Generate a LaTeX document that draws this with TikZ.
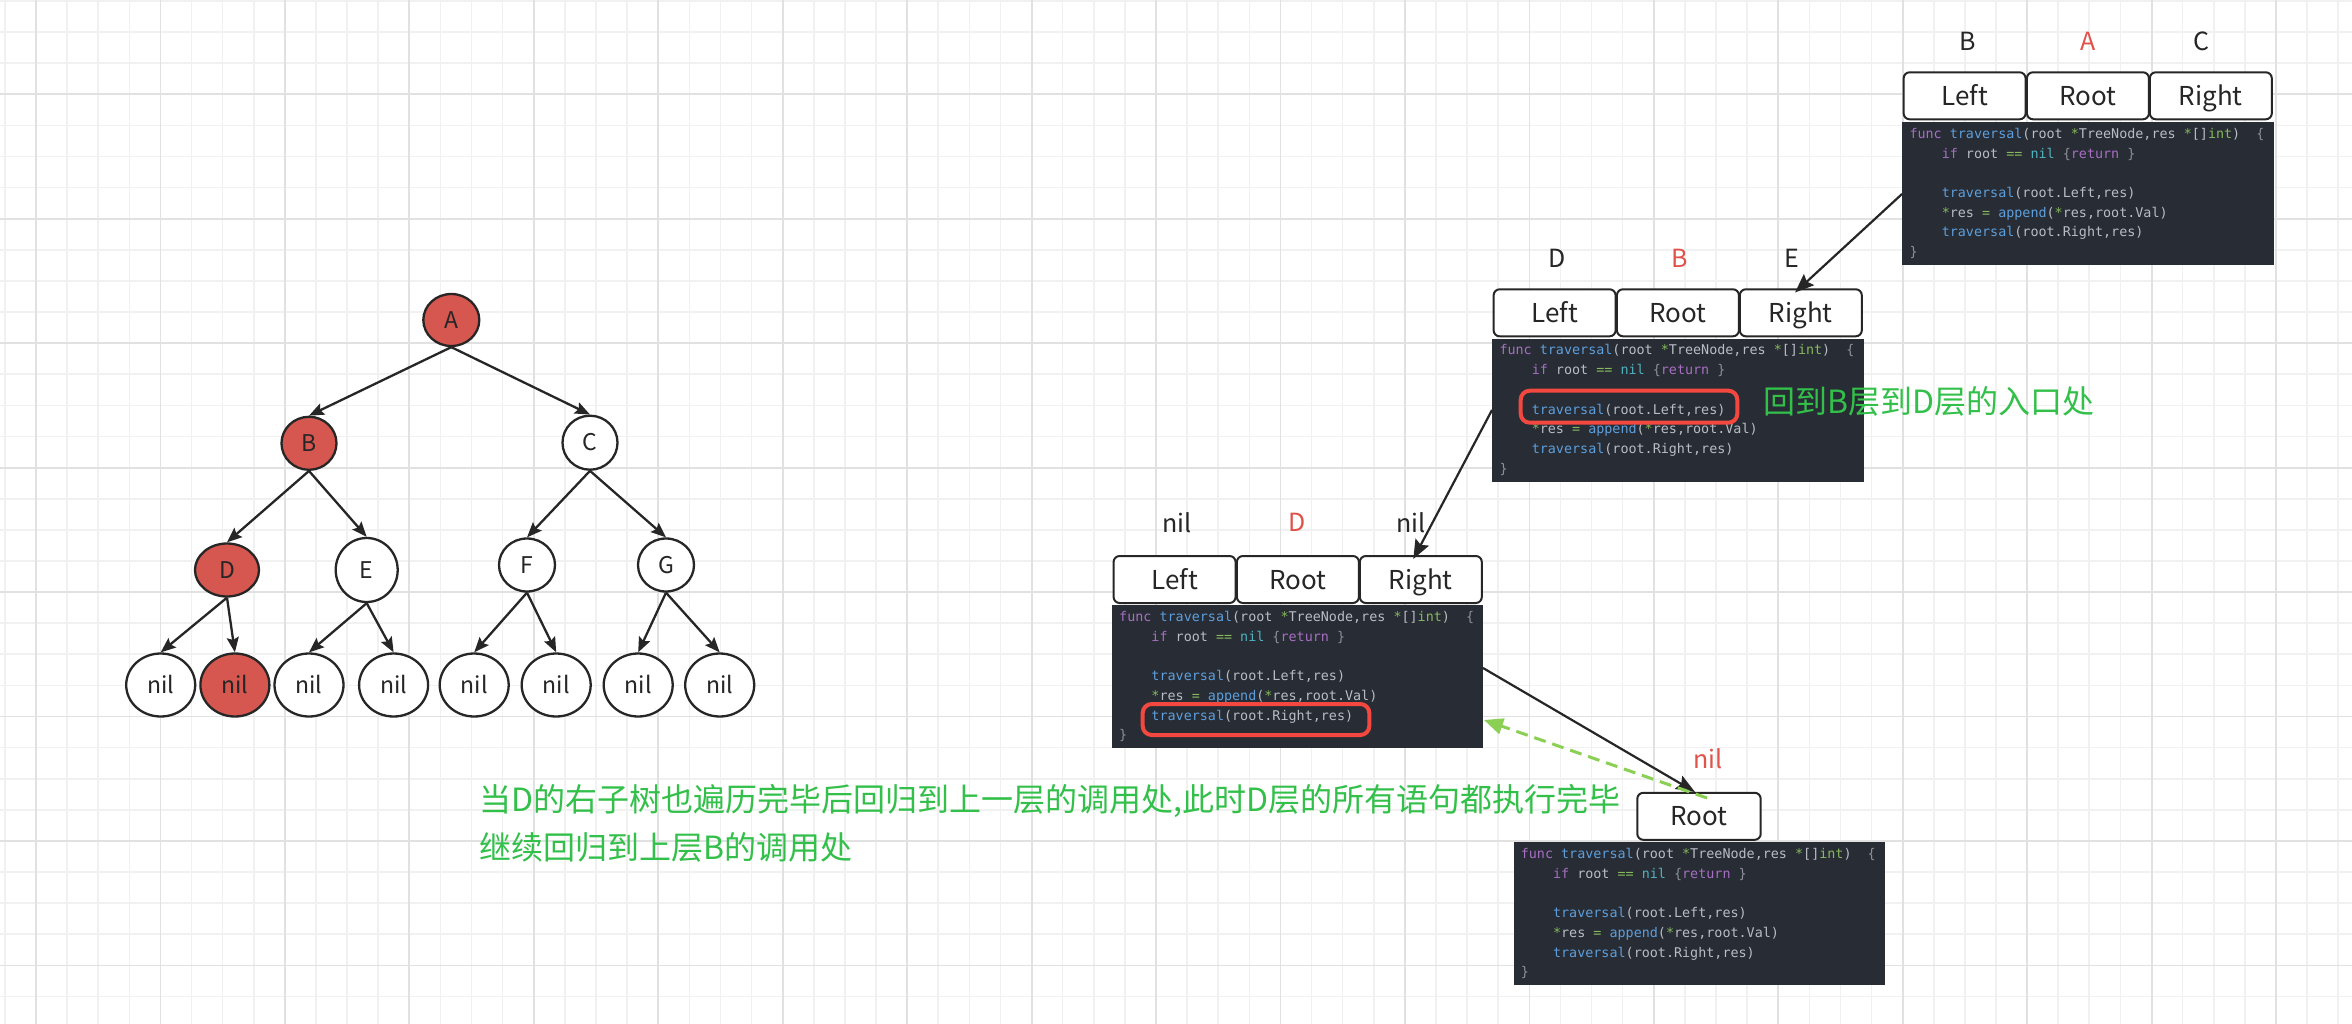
\documentclass[tikz,border=0pt]{standalone}
\usepackage{fontspec}
\setmainfont{Noto Sans CJK SC}
\newfontfamily\codefont{DejaVu Sans Mono}
\usetikzlibrary{shapes.geometric,arrows.meta,calc}
\definecolor{gridminor}{HTML}{F1F1F1}
\definecolor{gridmajor}{HTML}{E1E1E1}
\definecolor{ink}{HTML}{262626}
\definecolor{nodered}{HTML}{D6574F}
\definecolor{labred}{HTML}{E0524A}
\definecolor{codebg}{HTML}{282C34}
\definecolor{ctext}{HTML}{B8BCC4}
\definecolor{ckw}{HTML}{A66FC2}
\definecolor{cfn}{HTML}{5D9FDC}
\definecolor{cop}{HTML}{86B85C}
\definecolor{cnil}{HTML}{4FB3BF}
\definecolor{cdim}{HTML}{8B9099}
\definecolor{hlred}{HTML}{F2483F}
\definecolor{txtgreen}{HTML}{33C04A}
\definecolor{dashgreen}{HTML}{8CCF55}
\newcommand{\Kw}[1]{\textcolor{ckw}{#1}}
\newcommand{\Fn}[1]{\textcolor{cfn}{#1}}
\newcommand{\Op}[1]{\textcolor{cop}{#1}}
\newcommand{\Nil}[1]{\textcolor{cnil}{#1}}
\newcommand{\Dim}[1]{\textcolor{cdim}{#1}}
\newcommand{\Sp}{\phantom{x}}
\newcommand{\gocode}{%
\mbox{\Kw{func}\Sp\Fn{traversal}(root\Sp\Op{*}TreeNode,res\Sp\Op{*}[]\Op{int})\Sp\Sp\Dim{\{}}\\
\mbox{\Sp\Sp\Sp\Sp\Kw{if}\Sp root\Sp\Op{==}\Sp\Nil{nil}\Sp\Dim{\{}\Kw{return}\Sp\Dim{\}}}\\
\mbox{}\\
\mbox{\Sp\Sp\Sp\Sp\Fn{traversal}(root.Left,res)}\\
\mbox{\Sp\Sp\Sp\Sp\Op{*}res\Sp\Op{=}\Sp\Fn{append}(\Op{*}res,root.Val)}\\
\mbox{\Sp\Sp\Sp\Sp\Fn{traversal}(root.Right,res)}\\
\mbox{\Dim{\}}}}
\tikzset{
  minorgrid/.style={draw=gridminor,line width=1.6pt},
  majorgrid/.style={draw=gridmajor,line width=1.8pt},
  tnode/.style={ellipse,draw=ink,line width=2.3pt,fill=white,inner sep=0pt,
    text=ink,font=\fontsize{23}{26}\selectfont,text height=16.5pt,text depth=0pt},
  rednode/.style={tnode,fill=nodered},
  tedge/.style={draw=ink,line width=2.3pt,-{Stealth[length=15pt,width=12pt,inset=2.5pt]}},
  cell/.style={draw=ink,line width=2pt,rounded corners=6pt,fill=white,
    minimum width=122pt,minimum height=47pt,inner sep=0pt,text=ink,
    font=\fontsize{26}{30}\selectfont,text height=19pt,text depth=0pt},
  toplab/.style={text=ink,inner sep=0pt,font=\fontsize{25}{28}\selectfont},
  redlab/.style={toplab,text=labred},
  code/.style={anchor=north west,fill=codebg,text=ctext,inner xsep=7.3pt,inner ysep=0pt,
    text width=356.7pt,minimum width=371.3pt,minimum height=143pt,align=left,
    font=\codefont\fontsize{13.4}{19.7}\selectfont},
  hl/.style={draw=hlred,line width=4pt,rounded corners=9pt},
  callarrow/.style={draw=ink,line width=2.2pt,-{Stealth[length=19pt,width=15pt,inset=3pt]}},
  backarrow/.style={draw=dashgreen,line width=3pt,dash pattern=on 12pt off 7pt,
    -{Triangle[length=19pt,width=16pt]}},
  greentext/.style={text=txtgreen,inner sep=0pt,anchor=west,font=\fontsize{32}{36}\selectfont},
}
\begin{document}
\begin{tikzpicture}[x=1pt,y=-1pt]
\useasboundingbox (0,0) rectangle (2352,1024);
\fill[white] (0,0) rectangle (2352,1024);
% grid
\foreach \k in {0,...,75} \draw[minorgrid] ({4.9+31.11*\k},0) -- ({4.9+31.11*\k},1024);
\foreach \k in {0,...,32} \draw[minorgrid] (0,{0.97+31.11*\k}) -- (2352,{0.97+31.11*\k});
\foreach \k in {0,...,18} \draw[majorgrid] ({36+124.45*\k},0) -- ({36+124.45*\k},1024);
\foreach \k in {0,...,7} \draw[majorgrid] (0,{94.3+124.45*\k}) -- (2352,{94.3+124.45*\k});

% ---------------- tree ----------------
\node[rednode,minimum width=56pt,minimum height=52pt] (A) at (451.3,320) {A};
\node[rednode,minimum width=55pt,minimum height=53pt] (B) at (309,443.3) {B};
\node[tnode,minimum width=55pt,minimum height=54pt] (C) at (590,442.7) {C};
\node[rednode,minimum width=64pt,minimum height=53pt] (D) at (227,570) {D};
\node[tnode,minimum width=62pt,minimum height=64pt] (E) at (366.7,570) {E};
\node[tnode,minimum width=56pt,minimum height=53pt] (F) at (527,565) {F};
\node[tnode,minimum width=56pt,minimum height=53pt] (G) at (666,565) {G};
\node[tnode,minimum width=69pt,minimum height=63pt] (n1) at (160.7,685) {nil};
\node[rednode,minimum width=69pt,minimum height=63pt] (n2) at (234.9,685) {nil};
\node[tnode,minimum width=69pt,minimum height=63pt] (n3) at (309,685) {nil};
\node[tnode,minimum width=69pt,minimum height=63pt] (n4) at (393.6,685) {nil};
\node[tnode,minimum width=69pt,minimum height=63pt] (n5) at (474.2,685) {nil};
\node[tnode,minimum width=69pt,minimum height=63pt] (n6) at (556.2,685) {nil};
\node[tnode,minimum width=69pt,minimum height=63pt] (n7) at (638.2,685) {nil};
\node[tnode,minimum width=69pt,minimum height=63pt] (n8) at (719.7,685) {nil};
\draw[tedge] (A.south) -- (B.north);
\draw[tedge] (A.south) -- (C.north);
\draw[tedge] (B.south) -- (D.north);
\draw[tedge] (B.south) -- (E.north);
\draw[tedge] (C.south) -- (F.north);
\draw[tedge] (C.south) -- (G.north);
\draw[tedge] (D.south) -- (n1.north);
\draw[tedge] (D.south) -- (n2.north);
\draw[tedge] (E.south) -- (n3.north);
\draw[tedge] (E.south) -- (n4.north);
\draw[tedge] (F.south) -- (n5.north);
\draw[tedge] (F.south) -- (n6.north);
\draw[tedge] (G.south) -- (n7.north);
\draw[tedge] (G.south) -- (n8.north);

% ---------------- panel 1 (A) ----------------
\node[toplab] (q1l) at (1967.3,41.7) {B};
\node[redlab] (q1r) at (2087.7,41.7) {A};
\node[toplab] (q1c) at (2201.7,41.7) {C};
\node[cell] (p1left) at (1964.6,95.8) {Left};
\node[cell] (p1root) at (2087.9,95.8) {Root};
\node[cell] (p1right) at (2210.8,95.8) {Right};
\node[code] (c1) at (1902,121.7) {\gocode};

% ---------------- panel 2 (B) ----------------
\node[toplab] (q2l) at (1556.7,258.3) {D};
\node[redlab] (q2r) at (1679.3,258.3) {B};
\node[toplab] (q2c) at (1791.7,258.3) {E};
\node[cell] (p2left) at (1554.6,312.8) {Left};
\node[cell] (p2root) at (1677.9,312.8) {Root};
\node[cell] (p2right) at (1800.8,312.8) {Right};
\node[code] (c2) at (1492,338.3) {\gocode};
\draw[hl] (1520.7,390.7) rectangle (1737.3,422.7);
\node[greentext] (g2) at (1763.3,401.7) {回到B层到D层的入口处};

% ---------------- panel 3 (D) ----------------
\node[toplab] (q3l) at (1176.7,522.5) {nil};
\node[redlab] (q3r) at (1296.7,522.5) {D};
\node[toplab] (q3c) at (1410.7,522.5) {nil};
\node[cell] (p3left) at (1174.6,579.5) {Left};
\node[cell] (p3root) at (1297.9,579.5) {Root};
\node[cell] (p3right) at (1420.8,579.5) {Right};
\node[code] (c3) at (1111.7,605) {\gocode};
\draw[hl] (1142.7,704) rectangle (1369.3,735);

% ---------------- bottom panel (nil) ----------------
\node[redlab] (q4r) at (1708.3,758.3) {nil};
\node[cell,minimum width=123.4pt] (p4root) at (1699,816.3) {Root};
\node[code] (c4) at (1513.3,842) {\gocode};

% ---------------- connectors ----------------
\coordinate (p1out) at (1902,194);
\coordinate (p2in) at (1795,292.5);
\coordinate (p2out) at (1492,410);
\coordinate (p3in) at (1413.3,559);
\coordinate (p3out) at (1483,668);
\coordinate (p4in) at (1695,792);
\coordinate (p4back) at (1707,798);
\coordinate (p3back) at (1484,720);
\draw[callarrow] (p1out) -- (p2in);
\draw[callarrow] (p2out) -- (p3in);
\draw[callarrow] (p3out) -- (p4in);
\draw[backarrow] (p4back) -- (p3back);

% ---------------- bottom text ----------------
\node[greentext] (t1) at (479.5,801) {当D的右子树也遍历完毕后回归到上一层的调用处,此时D层的所有语句都执行完毕};
\node[greentext] (t2) at (479.5,847.5) {继续回归到上层B的调用处};
\end{tikzpicture}
\end{document}
